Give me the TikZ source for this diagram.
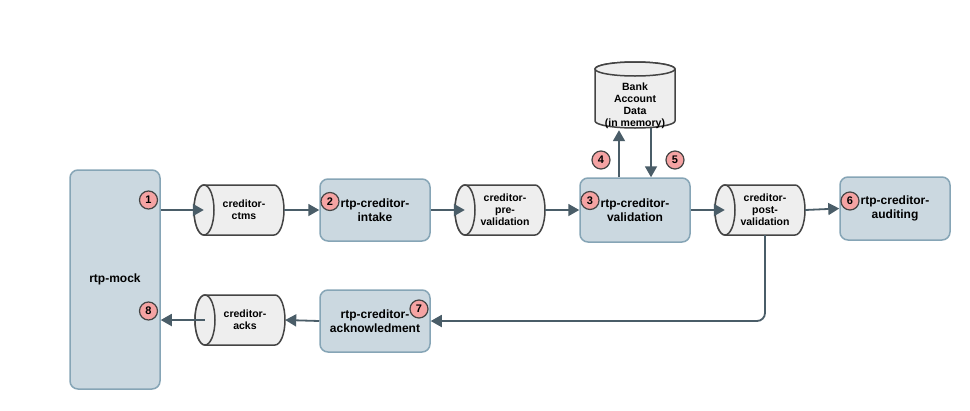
\documentclass[tikz,border=0pt]{standalone}
\usepackage{fontspec}
\setmainfont{Liberation Sans}
\usetikzlibrary{arrows.meta,calc}
\definecolor{cBoxFill}{HTML}{CBD8E0}
\definecolor{cBoxLine}{HTML}{86A5B6}
\definecolor{cCylFill}{HTML}{EEEEEE}
\definecolor{cCylLine}{HTML}{444444}
\definecolor{cArr}{HTML}{4A5D68}
\definecolor{cBadge}{HTML}{F5A3A3}
\newcommand\hcyl[4]{%
  \filldraw[cyl] (#2-35,#3-25) -- (#2+35,#3-25)
    arc[start angle=-90,end angle=90,x radius=10,y radius=25]
    -- (#2-35,#3+25)
    arc[start angle=90,end angle=270,x radius=10,y radius=25] -- cycle;
  \draw[cyl] (#2-35,#3) ellipse[x radius=10,y radius=25];
  \node[cylnode] (#1) at (#2,#3) {};
  \node[cyltext] (#1t) at (#2+5,#3) {#4};}
\begin{document}
\begin{tikzpicture}[x=1pt,y=-1pt,
  svc/.style={draw=cBoxLine, fill=cBoxFill, line width=1.5pt, rounded corners=8pt,
    minimum width=110pt, minimum height=62pt, align=center, inner sep=0pt,
    font=\bfseries\fontsize{12}{14}\selectfont},
  cyl/.style={fill=cCylFill, draw=cCylLine, line width=1.5pt},
  cylnode/.style={minimum width=90pt, minimum height=50pt, inner sep=0pt},
  cyltext/.style={align=center, inner sep=0pt, font=\bfseries\fontsize{10.5}{12}\selectfont},
  arrow/.style={draw=cArr, line width=1.8pt, -{Triangle[length=11pt,width=12pt]}},
  badge/.style={circle, draw=cCylLine, fill=cBadge, line width=1.2pt, minimum size=18pt,
    inner sep=0pt, font=\bfseries\fontsize{11}{12}\selectfont},
]
\useasboundingbox (0,0) rectangle (970,410);
\fill[white] (0,0) rectangle (970,410);

% services
\node[svc, minimum width=90pt, minimum height=219pt] (mock) at (115,279.5) {rtp-mock};
\node[svc] (intake) at (375,210) {rtp-creditor-\\intake};
\node[svc, minimum height=64pt] (val) at (635,210) {rtp-creditor-\\validation};
\node[svc, minimum height=63pt] (aud) at (895,208.5) {rtp-creditor-\\auditing};
\node[svc] (ack) at (375,321) {rtp-creditor-\\acknowledment};

% topics
\hcyl{ctms}{239}{210}{creditor-\\ctms}
\hcyl{pre}{500}{210}{creditor-\\pre-\\validation}
\hcyl{post}{760}{210}{creditor-\\post-\\validation}
\hcyl{acks}{240}{320}{creditor-\\acks}

% bank data store
\filldraw[cyl] (595,69) -- (595,121)
  arc[start angle=180,end angle=0,x radius=40,y radius=7]
  -- (675,69)
  arc[start angle=0,end angle=-180,x radius=40,y radius=7] -- cycle;
\draw[cyl] (635,69) ellipse[x radius=40,y radius=7];
\node[minimum width=80pt, minimum height=66pt, inner sep=0pt] (bank) at (635,95) {};
\node[cyltext] (bankt) at (635,106) {Bank\\Account\\Data\\(in memory)};

% connectors
\draw[arrow] (mock.east |- ctms) -- ($(ctms.west)+(10,0)$);
\draw[arrow] (ctms.east) -- (intake.west);
\draw[arrow] (intake.east) -- ($(pre.west)+(10,0)$);
\draw[arrow] (pre.east) -- (val.west);
\draw[arrow] (val.east) -- ($(post.west)+(10,0)$);
\draw[arrow] (post.east) -- (aud.west);
\draw[arrow] ($(val.north)+(-16,0)$) -- ($(bank.south)+(-16,2)$);
\draw[arrow] ($(bank.south)+(16,0)$) -- ($(val.north)+(16,0)$);
\draw[arrow, rounded corners=8pt] ($(post.south)+(5,0)$) |- (ack.east);
\draw[arrow] (ack.west) -- (acks.east);
\draw[arrow] ($(acks.west)+(10,0)$) -- (mock.east |- acks);

% step badges
\node[badge] (b1) at (148.5,200) {1};
\node[badge] (b2) at (330,201.5) {2};
\node[badge] (b3) at (590,200.5) {3};
\node[badge] (b4) at (601,160) {4};
\node[badge] (b5) at (675,160) {5};
\node[badge] (b6) at (850,201) {6};
\node[badge] (b7) at (419,309) {7};
\node[badge] (b8) at (148.5,311) {8};
\end{tikzpicture}
\end{document}
